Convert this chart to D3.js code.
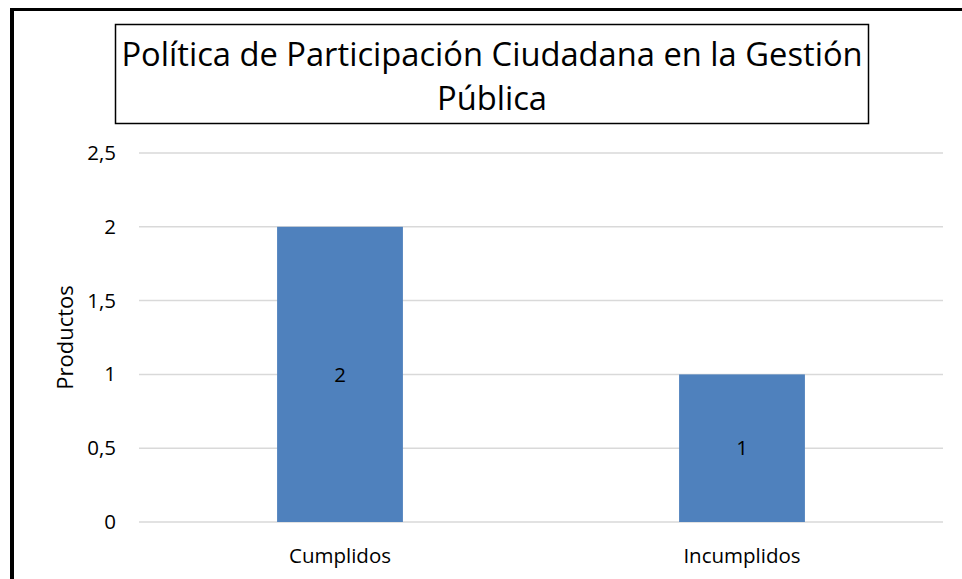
<!DOCTYPE html>
<html>
<head>
<meta charset="utf-8">
<script src="https://cdn.jsdelivr.net/npm/d3@7"></script>
<style>
  body { margin: 0; background: #fff; }
  svg text { font-family: "Open Sans", sans-serif; fill: #000; }
</style>
</head>
<body>
<div id="chart"></div>
<script>
// data
const categories = ["Cumplidos", "Incumplidos"];
const productos = [2, 1];
const yTicks = [0, 0.5, 1, 1.5, 2, 2.5];
const titleLines = ["Política de Participación Ciudadana en la Gestión", "Pública"];

const W = 962, H = 579;
const margin = { top: 153, right: 19, bottom: 57, left: 139 };
const width = W - margin.left - margin.right;
const height = H - margin.top - margin.bottom;

const svg = d3.select("#chart")
  .append("svg")
  .attr("width", W)
  .attr("height", H);

// outer frame (only left and top edges show)
svg.append("line")
  .attr("x1", 12).attr("x2", 12).attr("y1", 8).attr("y2", H)
  .attr("stroke", "#000").attr("stroke-width", 4);
svg.append("line")
  .attr("x1", 10).attr("x2", W).attr("y1", 9.5).attr("y2", 9.5)
  .attr("stroke", "#000").attr("stroke-width", 3);

const g = svg.append("g")
  .attr("transform", `translate(${margin.left},${margin.top})`);

const x = d3.scaleBand()
  .domain(categories)
  .range([0, width])
  .padding(0);

const y = d3.scaleLinear()
  .domain([0, 2.5])
  .range([height, 0]);

// gridlines
g.selectAll(".grid")
  .data(yTicks)
  .join("line")
  .attr("class", "grid")
  .attr("x1", 0)
  .attr("x2", width)
  .attr("y1", d => y(d))
  .attr("y2", d => y(d))
  .attr("stroke", "#d9d9d9")
  .attr("stroke-width", 1.5);

// y axis labels
g.append("g")
  .call(d3.axisLeft(y)
    .tickValues(yTicks)
    .tickSize(0)
    .tickPadding(23)
    .tickFormat(d => String(d).replace(".", ",")))
  .call(a => a.select(".domain").remove())
  .selectAll("text")
  .style("font-size", "20.5px")
  .style("font-family", "'Open Sans', sans-serif")
  .attr("fill", "#000");

// bars
const barW = x.bandwidth() * 0.313;
g.selectAll(".bar")
  .data(productos)
  .join("rect")
  .attr("class", "bar")
  .attr("x", (d, i) => x(categories[i]) + (x.bandwidth() - barW) / 2)
  .attr("y", d => y(d))
  .attr("width", barW)
  .attr("height", d => height - y(d))
  .attr("fill", "#4f81bd");

// data labels
g.selectAll(".lbl")
  .data(productos)
  .join("text")
  .attr("class", "lbl")
  .attr("x", (d, i) => x(categories[i]) + x.bandwidth() / 2)
  .attr("y", d => (y(d) + height) / 2)
  .attr("dy", "0.35em")
  .attr("text-anchor", "middle")
  .style("font-size", "20.5px")
  .text(d => d);

// x axis labels
g.append("g")
  .attr("transform", `translate(0,${height})`)
  .call(d3.axisBottom(x).tickSize(0).tickPadding(26))
  .call(a => a.select(".domain").remove())
  .selectAll("text")
  .style("font-size", "20.5px")
  .style("font-family", "'Open Sans', sans-serif")
  .attr("fill", "#000");

// y axis title
svg.append("text")
  .attr("transform", `translate(73,${margin.top + height / 2}) rotate(-90)`)
  .attr("text-anchor", "middle")
  .style("font-size", "22px")
  .text("Productos");

// title box
svg.append("rect")
  .attr("x", 115.5)
  .attr("y", 24.5)
  .attr("width", 753)
  .attr("height", 99)
  .attr("fill", "#fff")
  .attr("stroke", "#000")
  .attr("stroke-width", 1.5);

svg.selectAll(".title")
  .data(titleLines)
  .join("text")
  .attr("class", "title")
  .attr("x", 492)
  .attr("y", (d, i) => 65.5 + i * 44.5)
  .attr("text-anchor", "middle")
  .style("font-size", "32.7px")
  .text(d => d);
</script>
</body>
</html>
